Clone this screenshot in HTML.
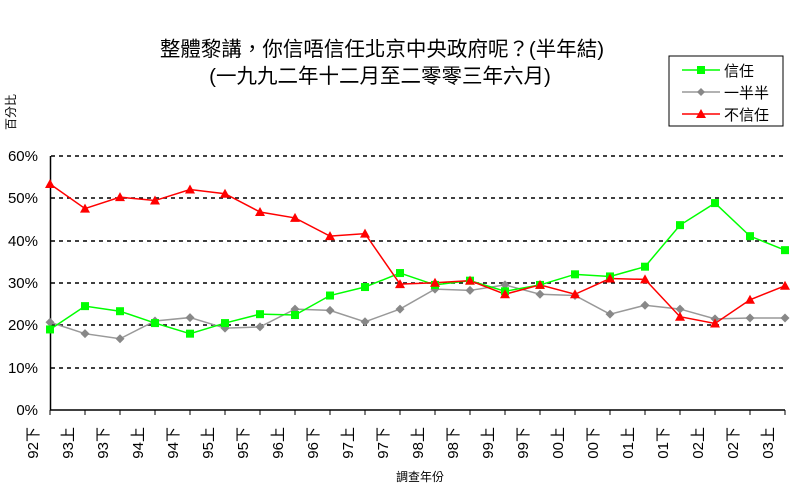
<!DOCTYPE html>
<html><head><meta charset="utf-8"><style>body{margin:0;background:#fff}svg{display:block}</style></head><body>
<svg width="800" height="500" xmlns="http://www.w3.org/2000/svg" font-family="Liberation Sans, Noto Sans CJK TC, sans-serif">
<rect width="800" height="500" fill="#fff"/>
<text x="382" y="56" font-size="20.5" text-anchor="middle">整體黎講，你信唔信任北京中央政府呢？(半年結)</text>
<text x="380" y="83" font-size="20.5" text-anchor="middle">(一九九二年十二月至二零零三年六月)</text>
<text transform="translate(15,112) rotate(-90)" font-size="12" text-anchor="middle">百分比</text>
<g stroke="#000" stroke-dasharray="4,4" stroke-width="1.5">
<line x1="51" y1="156" x2="785" y2="156"/><line x1="51" y1="198" x2="785" y2="198"/><line x1="51" y1="241" x2="785" y2="241"/><line x1="51" y1="283" x2="785" y2="283"/><line x1="51" y1="325" x2="785" y2="325"/><line x1="51" y1="368" x2="785" y2="368"/>
</g>
<g font-size="15" text-anchor="end"><text x="38" y="161">60%</text><text x="38" y="203">50%</text><text x="38" y="246">40%</text><text x="38" y="288">30%</text><text x="38" y="330">20%</text><text x="38" y="373">10%</text><text x="38" y="415">0%</text></g>
<line x1="50.5" y1="156" x2="50.5" y2="410" stroke="#000" stroke-width="1.5"/>
<line x1="50" y1="410" x2="785" y2="410" stroke="#000" stroke-width="1.5"/>
<g id="ticks" stroke="#000"></g>
<g id="labels" font-size="15"></g>
<g id="series"></g>
<text x="420" y="481" font-size="12" text-anchor="middle">調查年份</text>
<rect x="669" y="56" width="114" height="70" fill="#fff" stroke="#000"/>
<line x1="682" y1="70" x2="720" y2="70" stroke="#00ff00" stroke-width="1.5"/><rect x="697" y="66" width="8" height="8" fill="#00ff00"/>
<text x="724" y="76" font-size="15">信任</text>
<line x1="682" y1="92" x2="720" y2="92" stroke="#999" stroke-width="1.5"/><path d="M701 88L705 92L701 96L697 92Z" fill="#888"/>
<text x="724" y="98" font-size="15">一半半</text>
<line x1="682" y1="114" x2="720" y2="114" stroke="#f00" stroke-width="1.5"/><path d="M701 109L706 118L696 118Z" fill="#f00"/>
<text x="724" y="120" font-size="15">不信任</text>
</svg>
<script>
const L=["92下","93上","93下","94上","94下","95上","95下","96上","96下","97上","97下","98上","98下","99上","99下","00上","00下","01上","01下","02上","02下","03上"];
const G=[19,24.5,23.3,20.5,18,20.5,22.6,22.4,27,29,32.3,29.5,30.5,28,29.5,32,31.5,33.8,43.6,48.8,41,37.7];
const Y=[20.7,18,16.8,21,21.8,19.3,19.6,23.8,23.5,20.8,23.8,28.5,28.2,29.5,27.3,27,22.6,24.7,23.8,21.5,21.7,21.7];
const R=[53.3,47.5,50.2,49.4,52,51,46.7,45.3,41,41.6,29.7,30,30.5,27.3,29.5,27.3,31,30.8,22,20.4,26,29.3];
const X=i=>50+i*35, V=v=>410-v*4.24;
let t="",l="",s="";
L.forEach((x,i)=>{t+=`<line x1="${X(i)}" y1="410" x2="${X(i)}" y2="415"/>`;
l+=`<text transform="translate(${X(i)-12},${427}) rotate(-90)" text-anchor="end">${x}</text>`;});
function line(d,c){return `<polyline fill="none" stroke="${c}" stroke-width="1.5" points="${d.map((v,i)=>X(i)+","+V(v)).join(" ")}"/>`;}
s+=line(Y,"#999")+line(G,"#00ff00")+line(R,"#f00");
Y.forEach((v,i)=>{const x=X(i),y=V(v);s+=`<path d="M${x} ${y-4.5}L${x+4.5} ${y}L${x} ${y+4.5}L${x-4.5} ${y}Z" fill="#888"/>`});
G.forEach((v,i)=>{s+=`<rect x="${X(i)-4}" y="${V(v)-4}" width="8" height="8" fill="#00ff00"/>`});
R.forEach((v,i)=>{const x=X(i),y=V(v);s+=`<path d="M${x} ${y-5}L${x+5} ${y+4}L${x-5} ${y+4}Z" fill="#f00"/>`});
document.getElementById("ticks").innerHTML=t;
document.getElementById("labels").innerHTML=l;
document.getElementById("series").innerHTML=s;
</script>
</body></html>
